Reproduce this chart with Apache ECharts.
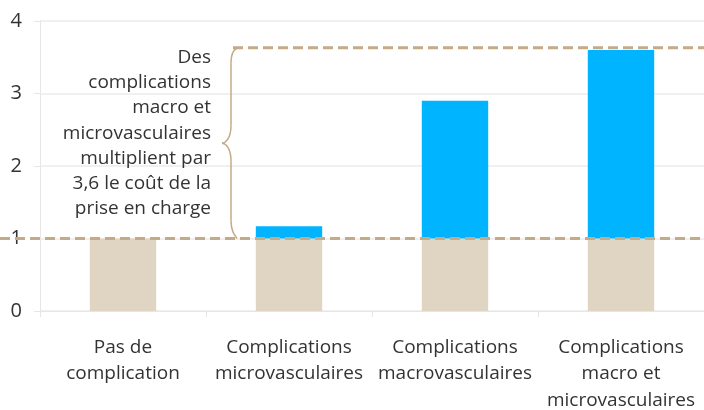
<!DOCTYPE html>
<html>
<head>
<meta charset="utf-8">
<script src="https://cdn.jsdelivr.net/npm/echarts@6/dist/echarts.min.js"></script>
<style>html,body{margin:0;padding:0;background:#fff;}#c{width:704px;height:410px;}</style>
</head>
<body>
<div id="c"></div>
<script>
const categories = ['Pas de\ncomplication', 'Complications\nmicrovasculaires', 'Complications\nmacrovasculaires', 'Complications\nmacro et\nmicrovasculaires'];
const baseValues = [1, 1, 1, 1];
const extraValues = [0, 0.17, 1.9, 2.6];
const yTicks = [0, 1, 2, 3, 4];
const refLow = 1;
const refHigh = 3.63;
const noteText = 'Des\ncomplications\nmacro et\nmicrovasculaires\nmultiplient par\n3,6 le coût de la\nprise en charge';

const FONT = '"Open Sans", "Noto Sans", sans-serif';
const TAN = '#C4AA85';
const chart = echarts.init(document.getElementById('c'));
chart.setOption({
  animation: false,
  grid: { left: 40, right: 0, top: 21, bottom: 99, containLabel: false, outerBoundsMode: 'none' },
  xAxis: {
    type: 'category', data: categories,
    axisLine: { show: true, lineStyle: { color: '#e6e6e6', width: 1 } },
    axisTick: { show: true, length: 6, lineStyle: { color: '#e6e6e6' } },
    axisLabel: { color: '#333', fontFamily: FONT, fontSize: 19, lineHeight: 26.5, margin: 23, interval: 0 }
  },
  yAxis: {
    type: 'value', min: yTicks[0], max: yTicks[yTicks.length - 1], interval: 1,
    axisLine: { show: true, lineStyle: { color: '#e6e6e6' } },
    axisTick: { show: true, length: 6, lineStyle: { color: '#e6e6e6' } },
    splitLine: { show: true, lineStyle: { color: '#ebebeb', width: 1.5 } },
    axisLabel: { color: '#333', fontFamily: FONT, fontSize: 20, margin: 18 }
  },
  series: [
    { type: 'bar', stack: 's', data: baseValues, barWidth: '40%', itemStyle: { color: '#E0D4C2' } },
    { type: 'bar', stack: 's', data: extraValues, barWidth: '40%', itemStyle: { color: '#00B4FF' } }
  ]
});

function draw() {
  const yLow = chart.convertToPixel({ yAxisIndex: 0 }, refLow);
  const yHigh = chart.convertToPixel({ yAxisIndex: 0 }, refHigh);
  const W = chart.getWidth();
  const bx = 231, tip = 222;
  const mid = (yLow + yHigh) / 2;
  const bs = { stroke: TAN, lineWidth: 1.5, fill: null };
  chart.setOption({
    graphic: [
      { type: 'line', shape: { x1: 0, y1: yLow, x2: W, y2: yLow }, style: { stroke: TAN, lineWidth: 3, lineDash: [10, 5] }, z: 10 },
      { type: 'line', shape: { x1: 233, y1: yHigh, x2: W, y2: yHigh }, style: { stroke: TAN, lineWidth: 3, lineDash: [10, 5] }, z: 10 },
      { type: 'bezierCurve', shape: { x1: 240, y1: yHigh, cpx1: 233, cpy1: yHigh, cpx2: bx, cpy2: yHigh + 6, x2: bx, y2: yHigh + 16 }, style: bs, z: 10 },
      { type: 'line', shape: { x1: bx, y1: yHigh + 16, x2: bx, y2: mid - 18 }, style: bs, z: 10 },
      { type: 'bezierCurve', shape: { x1: bx, y1: mid - 18, cpx1: bx, cpy1: mid - 4, cpx2: tip + 3, cpy2: mid, x2: tip, y2: mid }, style: bs, z: 10 },
      { type: 'bezierCurve', shape: { x1: tip, y1: mid, cpx1: tip + 3, cpy1: mid, cpx2: bx, cpy2: mid + 4, x2: bx, y2: mid + 18 }, style: bs, z: 10 },
      { type: 'line', shape: { x1: bx, y1: mid + 18, x2: bx, y2: yLow - 18 }, style: bs, z: 10 },
      { type: 'bezierCurve', shape: { x1: bx, y1: yLow - 18, cpx1: bx, cpy1: yLow - 8, cpx2: 234, cpy2: yLow - 4, x2: 237, y2: yLow }, style: bs, z: 10 },
      { type: 'text', x: 211, y: mid - 10, style: { text: noteText, fill: '#333', font: '19px ' + FONT, align: 'right', verticalAlign: 'middle', lineHeight: 25.3 }, z: 10 }
    ]
  });
}
draw();
</script>
</body>
</html>
